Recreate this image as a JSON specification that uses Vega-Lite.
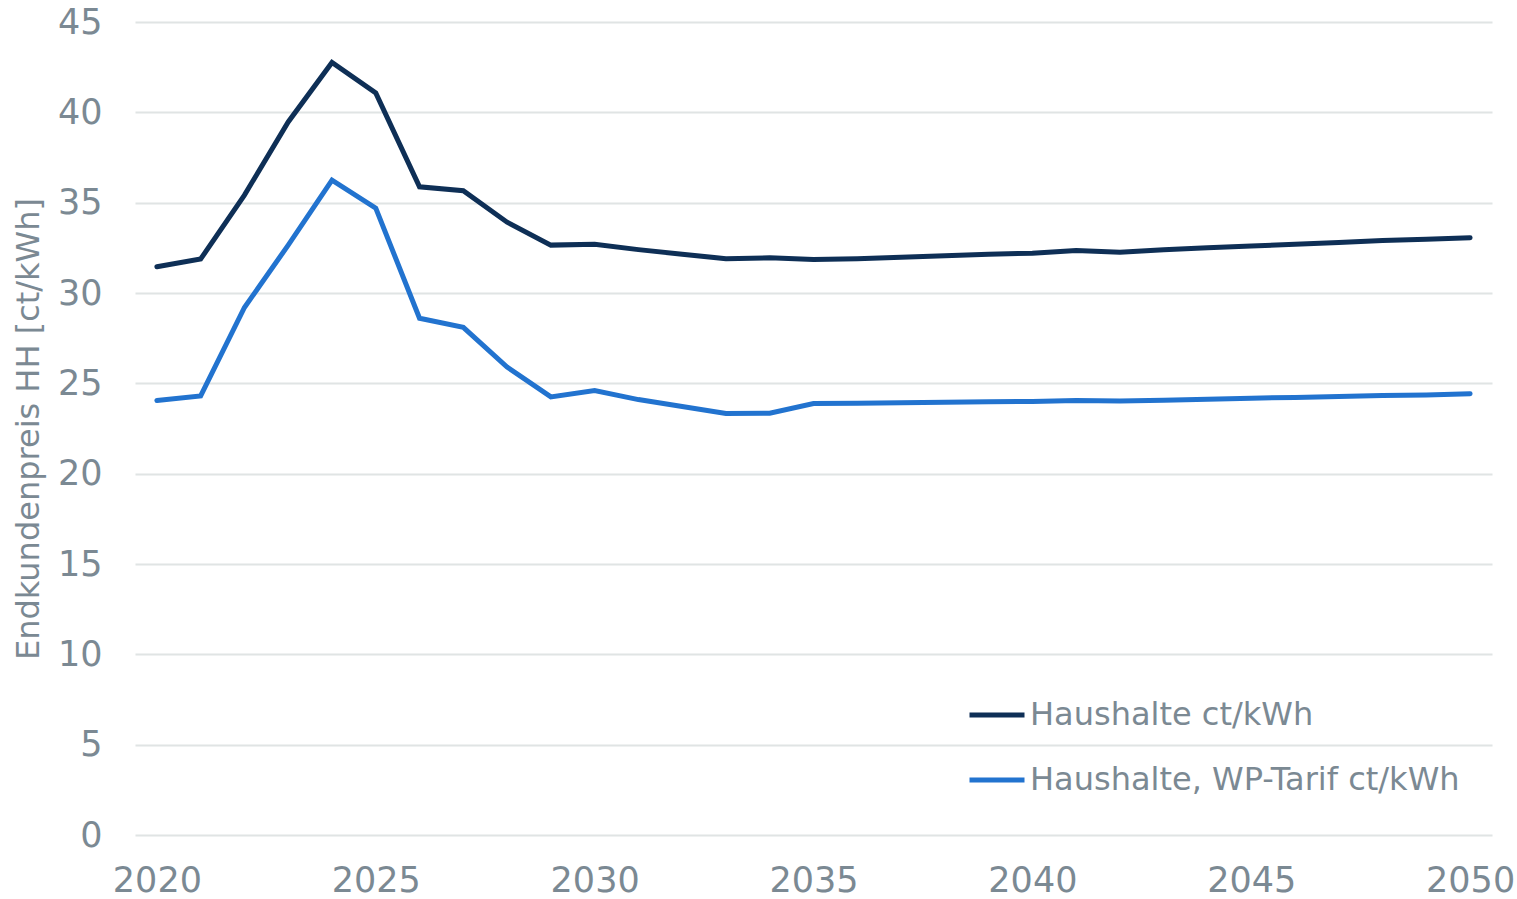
{
  "$schema": "https://vega.github.io/schema/vega-lite/v6.json",
  "width": 1357,
  "height": 813,
  "autosize": {"type": "none"},
  "padding": {"left": 135, "top": 22, "right": 25, "bottom": 64},
  "background": "#ffffff",
  "config": {
    "view": {"stroke": null},
    "font": "DejaVu Sans"
  },
  "data": {
    "values": [
      {"year": 2020, "series": "Haushalte ct/kWh", "value": 31.45},
      {"year": 2021, "series": "Haushalte ct/kWh", "value": 31.88},
      {"year": 2022, "series": "Haushalte ct/kWh", "value": 35.42},
      {"year": 2023, "series": "Haushalte ct/kWh", "value": 39.47},
      {"year": 2024, "series": "Haushalte ct/kWh", "value": 42.76},
      {"year": 2025, "series": "Haushalte ct/kWh", "value": 41.08},
      {"year": 2026, "series": "Haushalte ct/kWh", "value": 35.88},
      {"year": 2027, "series": "Haushalte ct/kWh", "value": 35.66},
      {"year": 2028, "series": "Haushalte ct/kWh", "value": 33.92},
      {"year": 2029, "series": "Haushalte ct/kWh", "value": 32.65},
      {"year": 2030, "series": "Haushalte ct/kWh", "value": 32.7},
      {"year": 2031, "series": "Haushalte ct/kWh", "value": 32.4},
      {"year": 2032, "series": "Haushalte ct/kWh", "value": 32.15},
      {"year": 2033, "series": "Haushalte ct/kWh", "value": 31.9},
      {"year": 2034, "series": "Haushalte ct/kWh", "value": 31.95},
      {"year": 2035, "series": "Haushalte ct/kWh", "value": 31.85},
      {"year": 2036, "series": "Haushalte ct/kWh", "value": 31.9},
      {"year": 2037, "series": "Haushalte ct/kWh", "value": 31.98},
      {"year": 2038, "series": "Haushalte ct/kWh", "value": 32.06},
      {"year": 2039, "series": "Haushalte ct/kWh", "value": 32.15},
      {"year": 2040, "series": "Haushalte ct/kWh", "value": 32.2},
      {"year": 2041, "series": "Haushalte ct/kWh", "value": 32.35},
      {"year": 2042, "series": "Haushalte ct/kWh", "value": 32.25},
      {"year": 2043, "series": "Haushalte ct/kWh", "value": 32.4},
      {"year": 2044, "series": "Haushalte ct/kWh", "value": 32.5},
      {"year": 2045, "series": "Haushalte ct/kWh", "value": 32.6},
      {"year": 2046, "series": "Haushalte ct/kWh", "value": 32.7},
      {"year": 2047, "series": "Haushalte ct/kWh", "value": 32.8},
      {"year": 2048, "series": "Haushalte ct/kWh", "value": 32.9},
      {"year": 2049, "series": "Haushalte ct/kWh", "value": 32.98},
      {"year": 2050, "series": "Haushalte ct/kWh", "value": 33.06},
      {"year": 2020, "series": "Haushalte, WP-Tarif ct/kWh", "value": 24.05},
      {"year": 2021, "series": "Haushalte, WP-Tarif ct/kWh", "value": 24.3},
      {"year": 2022, "series": "Haushalte, WP-Tarif ct/kWh", "value": 29.2},
      {"year": 2023, "series": "Haushalte, WP-Tarif ct/kWh", "value": 32.65},
      {"year": 2024, "series": "Haushalte, WP-Tarif ct/kWh", "value": 36.25},
      {"year": 2025, "series": "Haushalte, WP-Tarif ct/kWh", "value": 34.7},
      {"year": 2026, "series": "Haushalte, WP-Tarif ct/kWh", "value": 28.6},
      {"year": 2027, "series": "Haushalte, WP-Tarif ct/kWh", "value": 28.1},
      {"year": 2028, "series": "Haushalte, WP-Tarif ct/kWh", "value": 25.9},
      {"year": 2029, "series": "Haushalte, WP-Tarif ct/kWh", "value": 24.25},
      {"year": 2030, "series": "Haushalte, WP-Tarif ct/kWh", "value": 24.6},
      {"year": 2031, "series": "Haushalte, WP-Tarif ct/kWh", "value": 24.1},
      {"year": 2032, "series": "Haushalte, WP-Tarif ct/kWh", "value": 23.72},
      {"year": 2033, "series": "Haushalte, WP-Tarif ct/kWh", "value": 23.33},
      {"year": 2034, "series": "Haushalte, WP-Tarif ct/kWh", "value": 23.35},
      {"year": 2035, "series": "Haushalte, WP-Tarif ct/kWh", "value": 23.88},
      {"year": 2036, "series": "Haushalte, WP-Tarif ct/kWh", "value": 23.9},
      {"year": 2037, "series": "Haushalte, WP-Tarif ct/kWh", "value": 23.92},
      {"year": 2038, "series": "Haushalte, WP-Tarif ct/kWh", "value": 23.95},
      {"year": 2039, "series": "Haushalte, WP-Tarif ct/kWh", "value": 23.98},
      {"year": 2040, "series": "Haushalte, WP-Tarif ct/kWh", "value": 24.0},
      {"year": 2041, "series": "Haushalte, WP-Tarif ct/kWh", "value": 24.05},
      {"year": 2042, "series": "Haushalte, WP-Tarif ct/kWh", "value": 24.02},
      {"year": 2043, "series": "Haushalte, WP-Tarif ct/kWh", "value": 24.07},
      {"year": 2044, "series": "Haushalte, WP-Tarif ct/kWh", "value": 24.12},
      {"year": 2045, "series": "Haushalte, WP-Tarif ct/kWh", "value": 24.18},
      {"year": 2046, "series": "Haushalte, WP-Tarif ct/kWh", "value": 24.22},
      {"year": 2047, "series": "Haushalte, WP-Tarif ct/kWh", "value": 24.27},
      {"year": 2048, "series": "Haushalte, WP-Tarif ct/kWh", "value": 24.32},
      {"year": 2049, "series": "Haushalte, WP-Tarif ct/kWh", "value": 24.36},
      {"year": 2050, "series": "Haushalte, WP-Tarif ct/kWh", "value": 24.42}
    ]
  },
  "mark": {"type": "line", "strokeWidth": 5, "strokeCap": "round", "strokeJoin": "miter"},
  "encoding": {
    "x": {
      "field": "year",
      "type": "quantitative",
      "scale": {"domain": [2019.5, 2050.5], "nice": false, "zero": false},
      "axis": {
        "title": null,
        "values": [2020, 2025, 2030, 2035, 2040, 2045, 2050],
        "format": "d",
        "grid": false,
        "domain": false,
        "ticks": false,
        "labelFontSize": 35,
        "labelColor": "#7b8993",
        "labelPadding": 28,
        "labelFlush": false
      }
    },
    "y": {
      "field": "value",
      "type": "quantitative",
      "scale": {"domain": [0, 45], "nice": false},
      "axis": {
        "title": "Endkundenpreis HH [ct/kWh]",
        "titleFontSize": 32,
        "titleFontWeight": "normal",
        "titleColor": "#7b8993",
        "titlePadding": 12,
        "values": [0, 5, 10, 15, 20, 25, 30, 35, 40, 45],
        "grid": true,
        "gridColor": "#e0e4e4",
        "gridWidth": 2,
        "domain": false,
        "ticks": false,
        "labelFontSize": 35,
        "labelColor": "#7b8993",
        "labelPadding": 33
      }
    },
    "color": {
      "field": "series",
      "type": "nominal",
      "scale": {
        "domain": ["Haushalte ct/kWh", "Haushalte, WP-Tarif ct/kWh"],
        "range": ["#0e2f56", "#2273cf"]
      },
      "legend": {
        "title": null,
        "orient": "none",
        "legendX": 832,
        "legendY": 663,
        "symbolType": "stroke",
        "symbolSize": 3025,
        "symbolStrokeWidth": 5,
        "labelFontSize": 32,
        "labelColor": "#7b8993",
        "labelOffset": 3,
        "rowPadding": 19,
        "labelLimit": 600
      }
    }
  }
}
